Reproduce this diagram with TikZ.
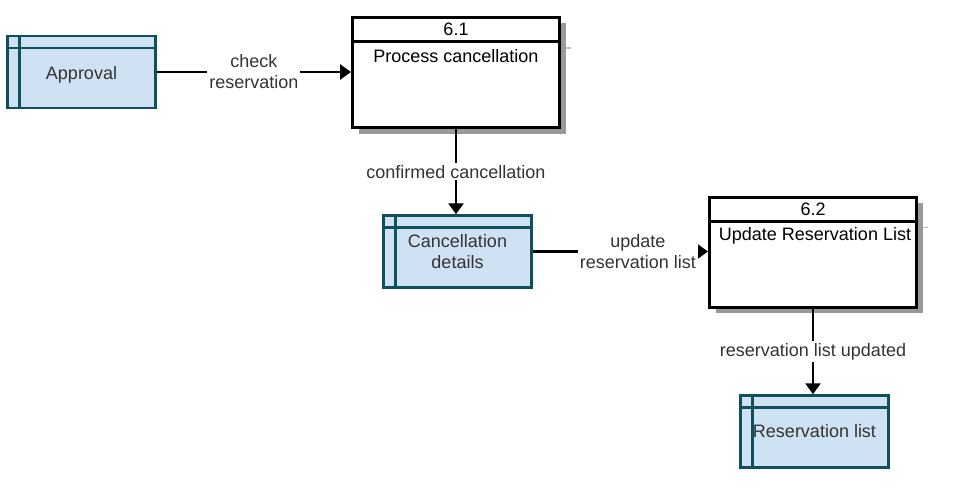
\documentclass[tikz,border=0pt]{standalone}
\usepackage{fontspec}
\setmainfont{Liberation Sans}
\usetikzlibrary{arrows.meta,shadows,backgrounds}
\definecolor{storefill}{RGB}{207,226,243}
\definecolor{storeline}{RGB}{16,79,92}
\definecolor{dfdtext}{RGB}{51,51,51}
\newcommand\dfdfont{\fontsize{18}{21}\selectfont}
\tikzset{every picture/.style={line width=0.75pt}}
\tikzset{
  datastore/.style={draw=storeline, fill=storefill, line width=2.5pt,
    minimum width=148pt, minimum height=72pt, inner sep=0pt,
    text=dfdtext, align=center, font=\dfdfont,
    path picture={
      \draw [storeline, line width=2.5pt] ([xshift=12pt]path picture bounding box.north west) -- ([xshift=12pt]path picture bounding box.south west);
      \draw [storeline, line width=2.5pt] ([yshift=-12pt]path picture bounding box.north west) -- ([yshift=-12pt]path picture bounding box.north east);
    }},
  process/.style={draw=black, fill=white, line width=3pt,
    minimum width=207pt, minimum height=110pt, inner sep=0pt,
    drop shadow={shadow xshift=6pt, shadow yshift=-6pt, fill=black!40, opacity=1}},
  flow/.style={line width=2.7pt, -{Triangle[length=11pt,width=15pt]}},
  flowlabel/.style={fill=white, text=dfdtext, align=center, inner sep=2pt, font=\dfdfont},
  proctext/.style={text=black, font=\dfdfont, inner sep=0pt}
}

\begin{document}
\begin{tikzpicture}[x=1pt,y=1pt,yscale=-1,xscale=1]
\useasboundingbox (0,0) rectangle (957,492);

% Data stores
\node [datastore] (approval) at (81.5,72) {\raisebox{-3pt}[\height][\depth]{Approval}};
\node [datastore] (cancel) at (457.5,251.5) {Cancellation\\details};
\node [datastore] (reslist) at (814.5,431.5) {Reservation list};

% Process 6.1
\node [process] (p61) at (456,72.5) {};
\draw [line width=3pt] ([yshift=26pt]p61.north west) -- ([yshift=26pt]p61.north east);
\begin{scope}[on background layer]
\draw [black!25, line width=1.5pt] ([yshift=32pt]p61.north east) -- ++(10,0);
\end{scope}
\node [proctext] (p61num) at (456,29) {6.1};
\node [proctext] (p61name) at (456,56) {Process cancellation};

% Process 6.2
\node [process] (p62) at (813,252) {};
\draw [line width=3pt] ([yshift=26pt]p62.north west) -- ([yshift=26pt]p62.north east);
\begin{scope}[on background layer]
\draw [black!25, line width=1.5pt] ([yshift=32pt]p62.north east) -- ++(10,0);
\end{scope}
\node [proctext] (p62num) at (813,209) {6.2};
\node [proctext] (p62name) at (815,236) {Update Reservation List};

% Data flows
\draw [flow] (approval.east) -- (p61.west |- approval.east) node [flowlabel, midway] (checklbl) {check\\reservation};
\draw [flow] (p61.south) -- (p61.south |- cancel.north) node [flowlabel, midway] (confirmlbl) {confirmed cancellation};
\draw [flow] (cancel.east) -- (p62.west |- cancel.east) node [flowlabel, pos=0.6] (updatelbl) {update\\reservation list};
\draw [flow] (p62.south) -- (p62.south |- reslist.north) node [flowlabel, midway] (updatedlbl) {reservation list updated};

\end{tikzpicture}
\end{document}
